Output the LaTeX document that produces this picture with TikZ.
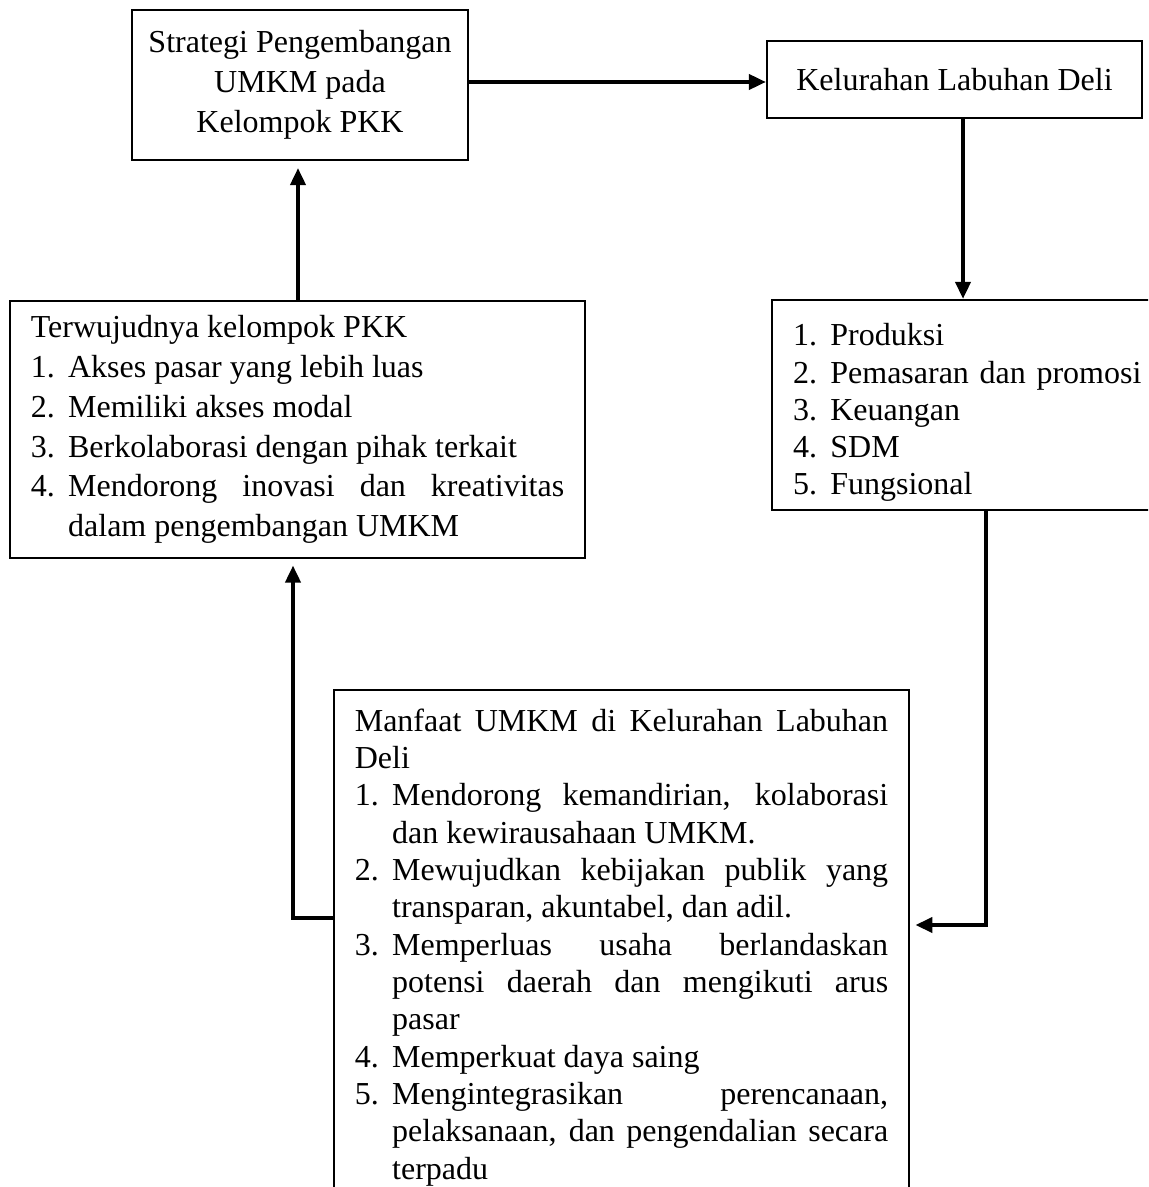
\documentclass[tikz,border=0pt]{standalone}
\usepackage{fontspec}
\setmainfont{Liberation Serif}
\usetikzlibrary{arrows.meta}

\newcommand{\listfont}[1]{\fontsize{12}{#1}\selectfont\hyphenpenalty=10000\exhyphenpenalty=10000\tolerance=10000\parindent=0pt}
\newcommand{\numitem}[2]{\par\hangindent=14pt\hangafter=1\noindent\makebox[14pt][l]{#1}#2\par}

\begin{document}
\begin{tikzpicture}[
            x=0.375pt, y=-0.375pt,
            box/.style={draw, line width=0.8pt, inner sep=0pt},
            titlebox/.style={box, align=center, font=\fontsize{12}{15}\selectfont},
            listbox/.style={box, text width=200pt, inner xsep=7.9pt, align=justify},
            arrow/.style={-{Triangle[length=6.4pt,width=5.6pt]}, line width=1.5pt}
        ]
            \useasboundingbox (0,0) rectangle (1148,1187);
            \clip (0,0) rectangle (1148,1187);

            % Boxes
            \node[titlebox, minimum width=126pt, minimum height=56.25pt] (strategi) at (300,85) {Strategi Pengembangan\\UMKM pada\\Kelompok PKK};
            \node[titlebox, minimum width=140.6pt, minimum height=28.9pt] (kelurahan) at (954.5,79.5) {Kelurahan Labuhan Deli};
            \node[listbox, font=\listfont{14.9}, minimum height=96.4pt] (terwujud) at (297.5,429.5) {%
                \noindent Terwujudnya kelompok PKK
                \numitem{1.}{Akses pasar yang lebih luas}
                \numitem{2.}{Memiliki akses modal}
                \numitem{3.}{Berkolaborasi dengan pihak terkait}
                \numitem{4.}{Mendorong inovasi dan kreativitas\linebreak dalam pengembangan UMKM}};
            \node[listbox, font=\listfont{13.9}, text width=131.6pt, align=left, minimum height=78.75pt] (aspek) at (968.5,405) {%
                \numitem{1.}{Produksi}
                \numitem{2.}{Pemasaran dan promosi}
                \numitem{3.}{Keuangan}
                \numitem{4.}{SDM}
                \numitem{5.}{Fungsional}};
            \node[listbox, font=\listfont{14}, anchor=north, inner ysep=7pt] (manfaat) at (621.5,689) {%
                \noindent Manfaat UMKM di Kelurahan Labuhan\linebreak Deli
                \numitem{1.}{Mendorong kemandirian, kolaborasi\linebreak dan kewirausahaan UMKM.}
                \numitem{2.}{Mewujudkan kebijakan publik yang\linebreak transparan, akuntabel, dan adil.}
                \numitem{3.}{Memperluas usaha berlandaskan\linebreak potensi daerah dan mengikuti arus\linebreak pasar}
                \numitem{4.}{Memperkuat daya saing}
                \numitem{5.}{Mengintegrasikan perencanaan,\linebreak pelaksanaan, dan pengendalian secara\linebreak terpadu}};

            % Bends
            \coordinate (kAB) at (0,82);
            \coordinate (kBD) at (963,0);
            \coordinate (kDE) at (986,925);
            \coordinate (kEC) at (293,918);
            \coordinate (kCA) at (298,0);

            % Connectors
            \draw[arrow] (strategi.east |- kAB) -- (kelurahan.west |- kAB);
            \draw[arrow] (kelurahan.south -| kBD) -- (aspek.north -| kBD);
            \draw[arrow, shorten >=1.9pt] (aspek.south -| kDE) -- (kDE) -- (manfaat.east |- kDE);
            \draw[arrow, shorten >=2.4pt] (manfaat.west |- kEC) -- (kEC) -- (terwujud.south -| kEC);
            \draw[arrow, shorten >=2.6pt] (terwujud.north -| kCA) -- (strategi.south -| kCA);
        \end{tikzpicture}
\end{document}
